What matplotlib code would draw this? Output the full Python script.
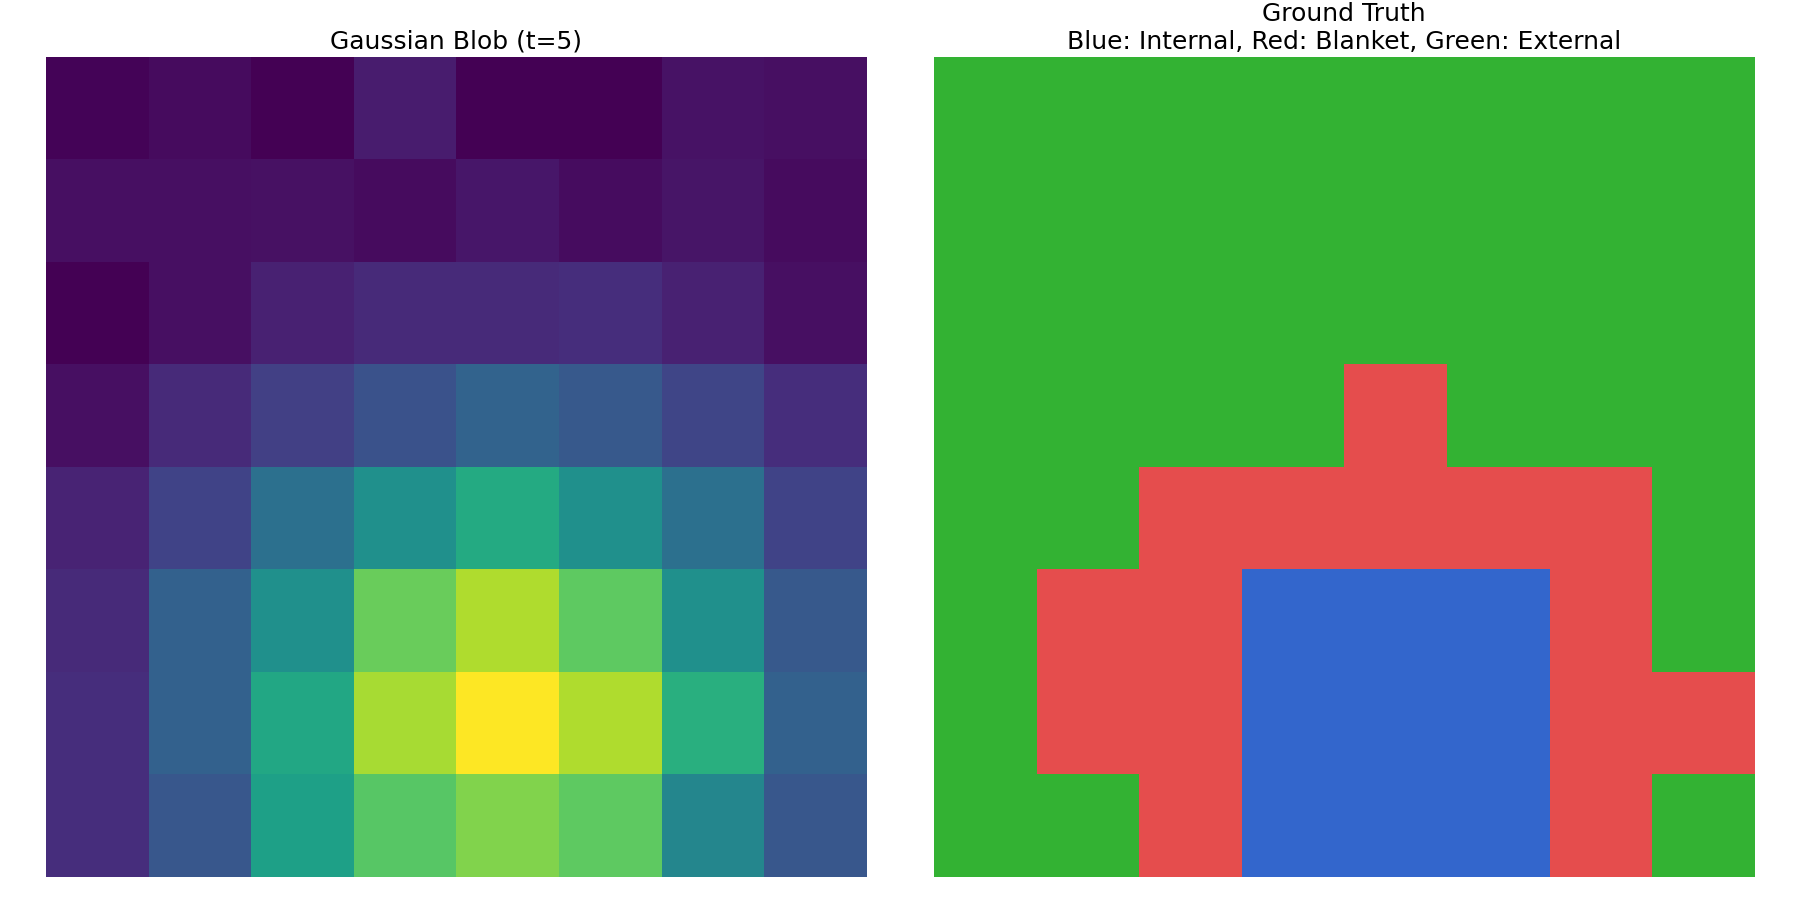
import numpy as np
import matplotlib
matplotlib.use("Agg")
import matplotlib.pyplot as plt
from matplotlib.colors import ListedColormap

# ── Дані ─────────────────────────────────────────────────────────────────────
# інтенсивність гаусового блоба (t=5), нормована 0..1
blob = [
    [0.01, 0.03, 0.00, 0.075, 0.00, 0.00, 0.05, 0.04],
    [0.04, 0.04, 0.045, 0.03, 0.06, 0.035, 0.055, 0.03],
    [0.00, 0.04, 0.09, 0.12, 0.12, 0.13, 0.09, 0.04],
    [0.04, 0.12, 0.19, 0.25, 0.32, 0.28, 0.21, 0.13],
    [0.10, 0.20, 0.37, 0.50, 0.61, 0.50, 0.37, 0.20],
    [0.12, 0.31, 0.50, 0.77, 0.88, 0.75, 0.50, 0.28],
    [0.13, 0.31, 0.60, 0.87, 1.00, 0.88, 0.63, 0.31],
    [0.13, 0.27, 0.57, 0.74, 0.81, 0.75, 0.46, 0.27],
]

# 0 = external, 1 = blanket, 2 = internal
truth = [
    [0, 0, 0, 0, 0, 0, 0, 0],
    [0, 0, 0, 0, 0, 0, 0, 0],
    [0, 0, 0, 0, 0, 0, 0, 0],
    [0, 0, 0, 0, 1, 0, 0, 0],
    [0, 0, 1, 1, 1, 1, 1, 0],
    [0, 1, 1, 2, 2, 2, 1, 0],
    [0, 1, 1, 2, 2, 2, 1, 1],
    [0, 0, 1, 2, 2, 2, 1, 0],
]

class_colors = ["#33B233", "#E54D4D", "#3366CC"]

# ── Графік ───────────────────────────────────────────────────────────────────
fig = plt.figure(figsize=(18, 9), dpi=100)
ax1 = fig.add_axes([0.0256, 0.0256, 0.4556, 0.911])
ax2 = fig.add_axes([0.519, 0.0256, 0.4556, 0.911])

ax1.imshow(np.array(blob), cmap="viridis", aspect="auto")
ax1.set_title("Gaussian Blob (t=5)", fontsize=18)
ax1.axis("off")

ax2.imshow(np.array(truth), cmap=ListedColormap(class_colors), vmin=0, vmax=2,
           aspect="auto")
ax2.set_title("Ground Truth\nBlue: Internal, Red: Blanket, Green: External", fontsize=18)
ax2.axis("off")

fig.savefig("out.png", dpi=100)
